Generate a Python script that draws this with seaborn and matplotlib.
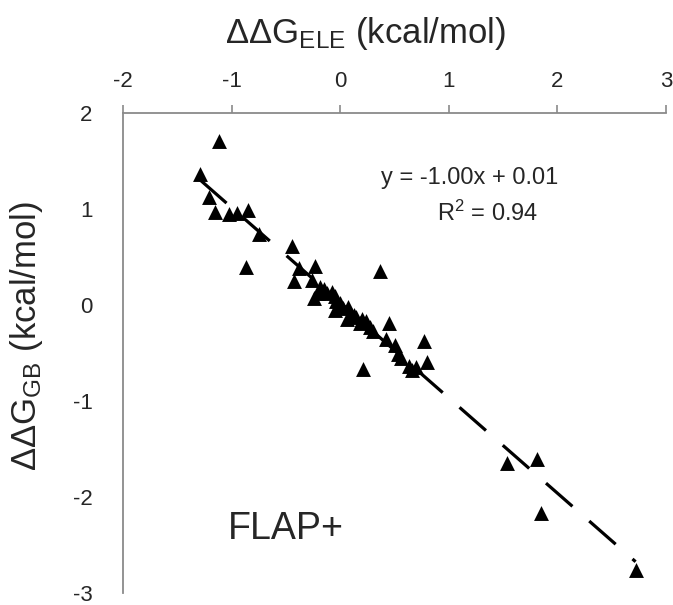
import numpy as np
import pandas as pd
import matplotlib
matplotlib.use("Agg")
import matplotlib.pyplot as plt
import seaborn as sns

# ΔΔG values (kcal/mol)
dG_ele = [-1.12, -1.29, -1.21, -1.155, -1.02, -0.95, -0.85, -0.75, -0.87,
          -0.44, -0.375, -0.43, -0.23, -0.26, -0.19, -0.24, -0.15, -0.20,
          -0.12, -0.08, -0.05, -0.035, -0.05, 0.00, 0.03, 0.07, 0.06,
          0.10, 0.13, 0.15, 0.18, 0.20, 0.24, 0.27, 0.30, 0.37, 0.45,
          0.42, 0.50, 0.53, 0.56, 0.63, 0.70, 0.66, 0.77, 0.80, 0.21,
          1.54, 1.81, 1.85, 2.72]
dG_gb = [1.71, 1.36, 1.12, 0.97, 0.95, 0.96, 0.99, 0.74, 0.40,
         0.61, 0.39, 0.25, 0.41, 0.26, 0.19, 0.07, 0.17, 0.12,
         0.12, 0.14, 0.09, 0.04, -0.05, 0.02, -0.03, -0.02, -0.15,
         -0.09, -0.10, -0.12, -0.19, -0.15, -0.17, -0.23, -0.27, 0.35, -0.19,
         -0.35, -0.42, -0.51, -0.55, -0.64, -0.65, -0.68, -0.38, -0.59, -0.67,
         -1.65, -1.60, -2.17, -2.76]

eq_text = "y = -1.00x + 0.01"
r2_text = "R$^2$ = 0.94"
panel_text = "FLAP+"

sns.set_style("white")
plt.rcParams['font.family'] = ['Liberation Sans', 'DejaVu Sans']
plt.rcParams['mathtext.fontset'] = 'custom'
plt.rcParams['mathtext.rm'] = 'Liberation Sans'
plt.rcParams['mathtext.default'] = 'regular'
plt.rcParams['axes.unicode_minus'] = False

df = pd.DataFrame({'ele': dG_ele, 'gb': dG_gb})

fig = plt.figure(figsize=(6.73, 6.05), dpi=100)
# axes box in pixels: left 123, right 666, top 113, bottom 593
ax = fig.add_axes([123 / 673, 12 / 605, 543 / 673, 480 / 605])

sns.regplot(data=df, x='ele', y='gb', ci=None, marker='^', color='black',
            scatter_kws=dict(s=115, linewidths=0, alpha=1),
            line_kws=dict(lw=2.3, ls=(0, (11, 7))), ax=ax)

ax.set_xlim(-2, 3)
ax.set_ylim(-3, 2)
ax.set_xticks(range(-2, 4))
ax.set_yticks(range(-3, 3))

axis_grey = '#8a8a8a'
ax.xaxis.tick_top()
ax.xaxis.set_label_position('top')
for side in ['right', 'bottom']:
    ax.spines[side].set_visible(False)
for side in ['left', 'top']:
    ax.spines[side].set_color(axis_grey)
    ax.spines[side].set_linewidth(1.3)

ax.tick_params(axis='x', direction='out', length=6, width=1.2, color=axis_grey,
               pad=9, labelsize=16, top=True, bottom=False)
ax.tick_params(axis='y', direction='in', length=6, width=1.2, color=axis_grey,
               pad=22, labelsize=16)

ax.set_xlabel("ΔΔG$_{ELE}$ (kcal/mol)", fontsize=25)
ax.set_ylabel("ΔΔG$_{GB}$ (kcal/mol)", fontsize=25)
ax.xaxis.set_label_coords(0.446, 1.165)
ax.xaxis.label.set_va('center')
ax.yaxis.set_label_coords(-0.177, 0.535)
ax.yaxis.label.set_va('center')

ax.text(1.19, 1.32, eq_text, ha='center', va='center', fontsize=17)
ax.text(1.36, 0.95, r2_text, ha='center', va='center', fontsize=17)
ax.text(-0.50, -2.33, panel_text, ha='center', va='center', fontsize=27)

fig.savefig("out.png", dpi=100)
